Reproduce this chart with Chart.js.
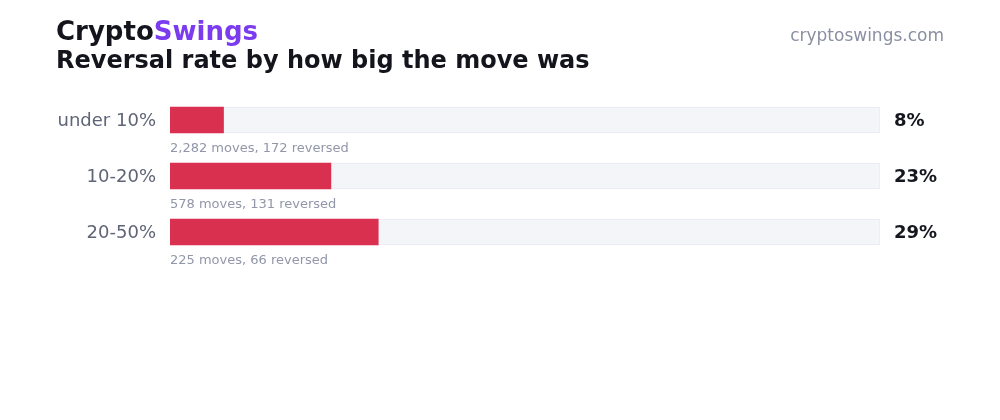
<!DOCTYPE html>
<html>
<head>
<meta charset="utf-8">
<script src="https://cdn.jsdelivr.net/npm/chart.js@4"></script>
<style>
  html, body { margin: 0; padding: 0; background: #ffffff; }
  #wrap { position: relative; width: 1000px; height: 420px; }
</style>
</head>
<body>
<div id="wrap"><canvas id="myChart" width="1000" height="420"></canvas></div>
<script>
const categories = ['under 10%', '10-20%', '20-50%'];
const moves = [2282, 578, 225];
const reversed = [172, 131, 66];
const rates = [7.54, 22.66, 29.33];   // percent reversed
const rateLabels = ['8%', '23%', '29%'];
const trackMax = [100, 100, 100];

const FONT = '"DejaVu Sans", sans-serif';

// draws header, row labels, counts and value text
const textPlugin = {
    id: 'textPlugin',
    afterDraw(chart) {
        const ctx = chart.ctx;
        const yScale = chart.scales.y;
        const area = chart.chartArea;
        ctx.save();

        // header
        ctx.textBaseline = 'alphabetic';
        ctx.textAlign = 'left';
        ctx.font = 'bold 26px ' + FONT;
        ctx.fillStyle = '#14151c';
        ctx.fillText('Crypto', 56, 40);
        const w = ctx.measureText('Crypto').width;
        ctx.fillStyle = '#7b3cf0';
        ctx.fillText('Swings', 56 + w, 40);

        ctx.font = 'bold 24px ' + FONT;
        ctx.fillStyle = '#14151c';
        ctx.fillText('Reversal rate by how big the move was', 56, 68);

        ctx.font = '17px ' + FONT;
        ctx.fillStyle = '#8a90a2';
        ctx.textAlign = 'right';
        ctx.fillText('cryptoswings.com', 944, 41);

        // rows
        categories.forEach((cat, i) => {
            const y = yScale.getPixelForValue(i);
            ctx.textBaseline = 'middle';
            ctx.textAlign = 'right';
            ctx.font = '18px ' + FONT;
            ctx.fillStyle = '#5f6577';
            ctx.fillText(cat, area.left - 14, y + 1);

            ctx.textAlign = 'left';
            ctx.font = 'bold 18px ' + FONT;
            ctx.fillStyle = '#15171f';
            ctx.fillText(rateLabels[i], area.right + 14, y + 1);

            ctx.font = '13px ' + FONT;
            ctx.fillStyle = '#9197a9';
            ctx.fillText(moves[i].toLocaleString('en-US') + ' moves, ' + reversed[i] + ' reversed',
                area.left, y + 28.5);
        });
        ctx.restore();
    }
};

const ctx = document.getElementById('myChart').getContext('2d');
new Chart(ctx, {
    type: 'bar',
    data: {
        labels: categories,
        datasets: [
            {
                label: 'rate',
                data: rates,
                backgroundColor: '#d93050',
                borderWidth: 0,
                barThickness: 26,
                grouped: false,
                order: 0
            },
            {
                label: 'track',
                data: trackMax,
                backgroundColor: '#f4f5f9',
                borderColor: '#e8eaf2',
                borderWidth: 1,
                barThickness: 26,
                grouped: false,
                order: 1
            }
        ]
    },
    options: {
        indexAxis: 'y',
        responsive: false,
        animation: false,
        layout: {
            padding: { left: 170, right: 120, top: 92, bottom: 160 }
        },
        scales: {
            x: { display: false, min: 0, max: 100 },
            y: { display: false }
        },
        plugins: {
            legend: { display: false },
            tooltip: { enabled: false }
        }
    },
    plugins: [textPlugin]
});
</script>
</body>
</html>
